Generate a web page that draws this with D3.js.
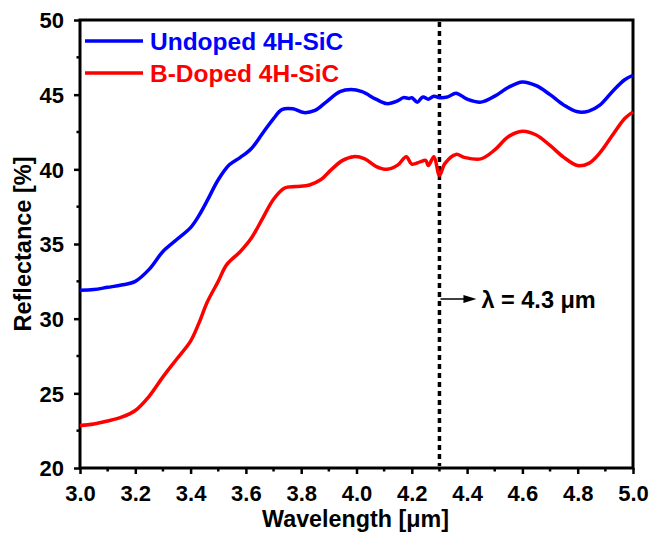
<!DOCTYPE html>
<html><head><meta charset="utf-8">
<script src="https://cdn.jsdelivr.net/npm/d3@7"></script>
<style>body{margin:0;background:#fff}text{font-family:"Liberation Sans",Arial,sans-serif;font-weight:bold}</style>
</head><body><svg id="c" width="650" height="533"></svg>
<script>
const wlUndoped = [3.00,3.05,3.10,3.15,3.20,3.25,3.30,3.35,3.40,3.43,3.46,3.50,3.54,3.58,3.62,3.66,3.70,3.73,3.77,3.81,3.85,3.89,3.94,3.98,4.02,4.07,4.11,4.15,4.17,4.19,4.20,4.22,4.24,4.26,4.28,4.30,4.33,4.36,4.40,4.45,4.50,4.55,4.60,4.65,4.70,4.75,4.80,4.84,4.88,4.93,4.97,5.00];
const rUndoped = [31.9,31.95,32.1,32.25,32.5,33.3,34.5,35.3,36.1,36.9,37.9,39.3,40.3,40.8,41.4,42.4,43.4,44.0,44.05,43.8,43.95,44.5,45.2,45.35,45.2,44.7,44.4,44.6,44.8,44.75,44.8,44.5,44.85,44.7,44.9,44.8,44.85,45.1,44.7,44.5,44.9,45.5,45.85,45.6,45.0,44.3,43.85,43.9,44.3,45.3,46.0,46.3];
const wlDoped = [3.00,3.05,3.10,3.15,3.20,3.25,3.30,3.35,3.40,3.43,3.46,3.50,3.53,3.58,3.62,3.66,3.70,3.74,3.78,3.83,3.87,3.91,3.95,3.99,4.03,4.07,4.11,4.15,4.18,4.20,4.23,4.25,4.26,4.28,4.30,4.32,4.36,4.39,4.45,4.50,4.55,4.60,4.65,4.70,4.75,4.80,4.84,4.88,4.93,4.97,5.00];
const rDoped = [22.85,22.95,23.15,23.4,23.85,24.8,26.1,27.3,28.5,29.7,31.1,32.5,33.6,34.5,35.4,36.7,38.0,38.75,38.85,38.95,39.3,40.0,40.6,40.85,40.7,40.2,40.0,40.3,40.85,40.35,40.5,40.6,40.25,40.85,39.6,40.4,41.0,40.8,40.7,41.3,42.2,42.55,42.3,41.6,40.8,40.25,40.4,41.1,42.4,43.4,43.85];
const seriesNames = ["Undoped 4H-SiC","B-Doped 4H-SiC"];
const seriesColors = ["#0000ff","#ff0000"];
const xTicks = [3.0,3.2,3.4,3.6,3.8,4.0,4.2,4.4,4.6,4.8,5.0];
const yTicks = [20,25,30,35,40,45,50];
const markerWl = 4.3;

const svg = d3.select("#c");
const L=80,R=633,T=20,B=468;
const x = d3.scaleLinear().domain([3,5]).range([L,R]);
const y = d3.scaleLinear().domain([20,50]).range([B,T]);

// minor ticks
const xMinor = d3.range(3.1,5.0,0.2);
const yMinor = d3.range(22.5,50,5);
svg.append("g").attr("transform",`translate(0,${B})`).selectAll("line").data(xMinor).join("line")
 .attr("x1",d=>x(d)).attr("x2",d=>x(d)).attr("y1",0).attr("y2",3.5).attr("stroke","#000").attr("stroke-width",2.5);
svg.append("g").attr("transform",`translate(${L},0)`).selectAll("line").data(yMinor).join("line")
 .attr("y1",d=>y(d)).attr("y2",d=>y(d)).attr("x1",0).attr("x2",-3.5).attr("stroke","#000").attr("stroke-width",2.5);

const xa = svg.append("g").attr("transform",`translate(0,${B})`)
 .call(d3.axisBottom(x).tickValues(xTicks).tickFormat(d3.format(".1f")).tickSize(6).tickSizeOuter(0));
const ya = svg.append("g").attr("transform",`translate(${L},0)`)
 .call(d3.axisLeft(y).tickValues(yTicks).tickSize(6).tickSizeOuter(0));
[xa,ya].forEach(a=>{
  a.select(".domain").remove();
  a.selectAll("line").attr("stroke","#000").attr("stroke-width",2.5);
  a.selectAll("text").attr("font-size",22).attr("fill","#000").style("font-family","'Liberation Sans',Arial,sans-serif").style("font-weight","bold");
});
xa.selectAll("text").attr("y",9).attr("dy","1.1em");
ya.selectAll("text").attr("x",-16).attr("dy","0.36em");

// frame
svg.append("rect").attr("x",L).attr("y",T).attr("width",R-L).attr("height",B-T)
 .attr("fill","none").attr("stroke","#000").attr("stroke-width",3);

// marker line
svg.append("line").attr("x1",x(markerWl)).attr("x2",x(markerWl)).attr("y1",T+2).attr("y2",B-2)
 .attr("stroke","#000").attr("stroke-width",3.5).attr("stroke-dasharray","5,4");

const line = d3.line().x(d=>x(d[0])).y(d=>y(d[1])).curve(d3.curveCatmullRom.alpha(0.5));
svg.append("path").datum(d3.zip(wlDoped,rDoped)).attr("d",line).attr("fill","none").attr("stroke",seriesColors[1]).attr("stroke-width",3.5);
svg.append("path").datum(d3.zip(wlUndoped,rUndoped)).attr("d",line).attr("fill","none").attr("stroke",seriesColors[0]).attr("stroke-width",3.5);

// legend
seriesNames.forEach((n,i)=>{
  const ly = 41 + i*32;
  svg.append("line").attr("x1",85).attr("x2",143).attr("y1",ly).attr("y2",ly).attr("stroke",seriesColors[i]).attr("stroke-width",3.5);
  svg.append("text").attr("x",150).attr("y",ly+9).attr("font-size",24.5).attr("fill",seriesColors[i]).text(n);
});

// annotation arrow
const ay = 299;
svg.append("line").attr("x1",x(markerWl)+1).attr("x2",x(markerWl)+26).attr("y1",ay).attr("y2",ay).attr("stroke","#000").attr("stroke-width",1.5);
svg.append("path").attr("d",`M${x(markerWl)+24},${ay-4} L${x(markerWl)+37},${ay} L${x(markerWl)+24},${ay+4} Z`).attr("fill","#000");
svg.append("text").attr("x",x(markerWl)+42).attr("y",ay+9).attr("font-size",23.5).attr("fill","#000").text("λ = 4.3 μm");

// axis titles
svg.append("text").attr("x",(L+R)/2 - 1).attr("y",527).attr("text-anchor","middle").attr("font-size",23.3).text("Wavelength [μm]");
svg.append("text").attr("transform",`translate(31,${(T+B)/2}) rotate(-90)`).attr("text-anchor","middle").attr("font-size",23.5).text("Reflectance [%]");
</script></body></html>
